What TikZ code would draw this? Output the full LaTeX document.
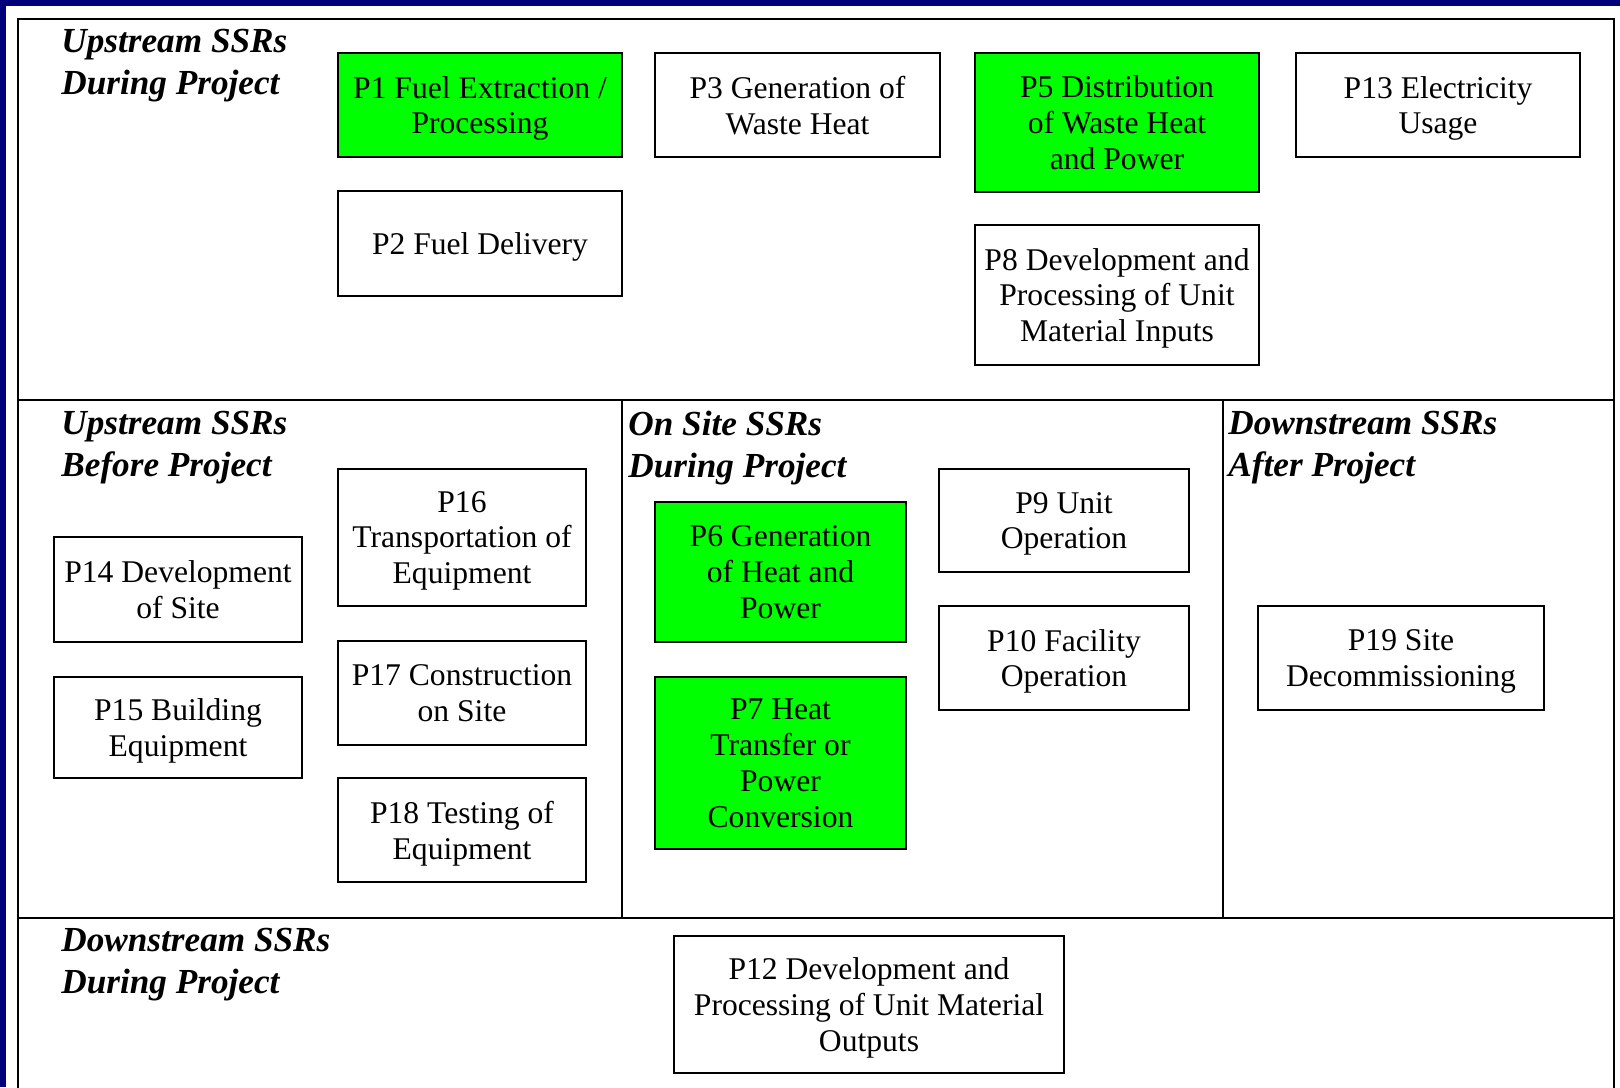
\documentclass[tikz,border=0pt]{standalone}
\usepackage{fontspec}
\setmainfont{Liberation Serif}
\usepackage{tikz}
\usetikzlibrary{positioning}
\definecolor{ssrgreen}{RGB}{0,255,0}
\definecolor{slidenavy}{RGB}{0,0,122}
\tikzset{
  ssrbox/.style={
    rectangle, draw=black, line width=1pt, fill=white,
    align=center, inner sep=2pt, text depth=0pt,
    font=\fontsize{15.8}{17.9}\selectfont
  },
  ssrdone/.style={ssrbox, fill=ssrgreen},
  ssrhead/.style={
    anchor=west, align=left, inner sep=0pt,
    font=\fontsize{17.6}{21}\selectfont\bfseries\itshape
  },
  ssrline/.style={line width=1pt, draw=black},
}
\begin{document}
\begin{tikzpicture}[x=0.5pt, y=-0.5pt]
  \useasboundingbox (0,0) rectangle (1620,1087);
  \clip (0,0) rectangle (1620,1087);
  \fill[white] (0,0) rectangle (1620,1087);
  \fill[slidenavy] (0,0) rectangle (1620,6);
  \fill[slidenavy] (0,0) rectangle (6,1087);
  % frame and dividers
  \draw[ssrline] (18,1100) -- (18,19) -- (1614,19) -- (1614,1100);
  \draw[ssrline] (18,400) -- (1614,400);
  \draw[ssrline] (18,918) -- (1614,918);
  \draw[ssrline] (622,400) -- (622,918);
  \draw[ssrline] (1223,400) -- (1223,918);

  % section titles
  \node (hUpDur) [ssrhead] at (61,66) {Upstream SSRs\\During Project};
  \node (hUpBef) [ssrhead] at (61,448) {Upstream SSRs\\Before Project};
  \node (hOnSite) [ssrhead] at (628,448) {On Site SSRs\\During Project};
  \node (hDnAft) [ssrhead] at (1228,448) {Downstream SSRs\\After Project};
  \node (hDnDur) [ssrhead] at (61,965) {Downstream SSRs\\During Project};

  % upstream during project
  \node (p1) [ssrdone, minimum width=142pt, minimum height=52pt] at (480,105) {P1 Fuel Extraction /\\Processing};
  \node (p3) [ssrbox, minimum width=142.5pt, minimum height=52pt] at (797.5,105) {P3 Generation of\\Waste Heat};
  \node (p5) [ssrdone, minimum width=142pt, minimum height=69.5pt] at (1117,122.5) {P5 Distribution\\of Waste Heat\\and Power};
  \node (p13) [ssrbox, minimum width=142pt, minimum height=52pt] at (1438,105) {P13 Electricity\\Usage};
  \node (p2) [ssrbox, minimum width=142pt, minimum height=52.5pt] at (480,243.5) {P2 Fuel Delivery};
  \node (p8) [ssrbox, minimum width=142pt, minimum height=70pt] at (1117,295) {P8 Development and\\Processing of Unit\\Material Inputs};

  % upstream before project
  \node (p16) [ssrbox, minimum width=124pt, minimum height=68.5pt] at (462,537.5) {P16\\Transportation of\\Equipment};
  \node (p14) [ssrbox, minimum width=124pt, minimum height=52.5pt] at (178,589.5) {P14 Development\\of Site};
  \node (p15) [ssrbox, minimum width=124pt, minimum height=50.5pt] at (178,727.5) {P15 Building\\Equipment};
  \node (p17) [ssrbox, minimum width=124pt, minimum height=52pt] at (462,693) {P17 Construction\\on Site};
  \node (p18) [ssrbox, minimum width=124pt, minimum height=52pt] at (462,830) {P18 Testing of\\Equipment};

  % on site during project
  \node (p6) [ssrdone, minimum width=125.5pt, minimum height=70pt] at (780.5,572) {P6 Generation\\of Heat and\\Power};
  \node (p7) [ssrdone, minimum width=125.5pt, minimum height=86pt] at (780.5,763) {P7 Heat\\Transfer or\\Power\\Conversion};
  \node (p9) [ssrbox, minimum width=125pt, minimum height=51.5pt] at (1064,520.5) {P9 Unit\\Operation};
  \node (p10) [ssrbox, minimum width=125pt, minimum height=52pt] at (1064,658) {P10 Facility\\Operation};

  % downstream
  \node (p19) [ssrbox, minimum width=143pt, minimum height=52pt] at (1401,658) {P19 Site\\Decommissioning};
  \node (p12) [ssrbox, minimum width=195pt, minimum height=68.5pt] at (869,1004.5) {P12 Development and\\Processing of Unit Material\\Outputs};
\end{tikzpicture}
\end{document}
